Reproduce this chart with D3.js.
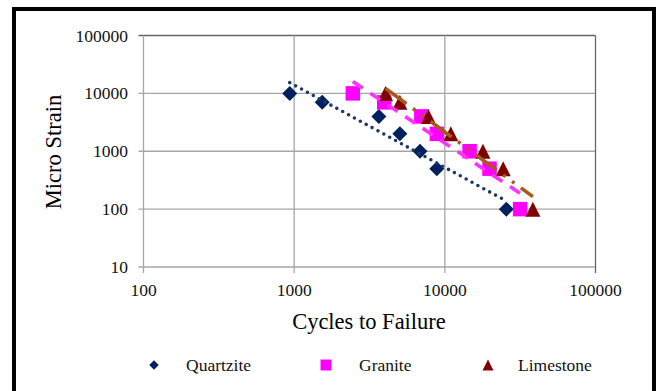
<!DOCTYPE html>
<html>
<head>
  <meta charset="utf-8">
  <script src="https://d3js.org/d3.v7.min.js"></script>
  <style>
    html, body { margin: 0; padding: 0; background: #fff; }
    svg { display: block; }
  </style>
</head>
<body>
<svg width="659" height="391"></svg>
<script>
// values
var strain = [10000, 7000, 4000, 2000, 1000, 500, 100];
var quartziteCycles = [935, 1535, 3650, 5030, 6840, 8850, 25600];
var graniteCycles = [2450, 3960, 6980, 8850, 14600, 19800, 31600];
var limestoneCycles = [4040, 5030, 7780, 10960, 17900, 24400, 38400];
var xTicks = [100, 1000, 10000, 100000];
var yTicks = [10, 100, 1000, 10000, 100000];
var seriesNames = ["Quartzite", "Granite", "Limestone"];

var svg = d3.select("svg"),
    font = "'Liberation Serif', 'Times New Roman', serif";

var x = d3.scaleLog().domain([100, 100000]).range([143.5, 595.5]);
var y = d3.scaleLog().domain([10, 100000]).range([267, 35.5]);

// outer frame
svg.append("rect")
    .attr("x", 14).attr("y", 9)
    .attr("width", 640).attr("height", 420)
    .attr("fill", "#fff")
    .attr("stroke", "#000")
    .attr("stroke-width", 4);

// gridlines
var g = svg.append("g");
g.selectAll(".hgrid")
  .data(yTicks)
  .enter().append("line")
    .attr("x1", x(100) - 5).attr("x2", x(100000))
    .attr("y1", function(d) { return y(d); })
    .attr("y2", function(d) { return y(d); })
    .attr("stroke", function(d) { return d == 100000 ? "#666" : "#a6a6a6"; })
    .attr("stroke-width", 1.3);

g.selectAll(".vgrid")
  .data(xTicks)
  .enter().append("line")
    .attr("y1", y(100000)).attr("y2", y(10) + 6)
    .attr("x1", function(d) { return x(d); })
    .attr("x2", function(d) { return x(d); })
    .attr("stroke", function(d) { return d == 100000 ? "#666" : "#a6a6a6"; })
    .attr("stroke-width", 1.3);

// tick labels
g.selectAll(".ylab")
  .data(yTicks)
  .enter().append("text")
    .attr("x", 128)
    .attr("y", function(d) { return y(d) + 6; })
    .attr("text-anchor", "end")
    .attr("font-family", font)
    .attr("font-size", 17.5)
    .attr("fill", "#111")
    .text(function(d) { return d; });

g.selectAll(".xlab")
  .data(xTicks)
  .enter().append("text")
    .attr("x", function(d) { return x(d); })
    .attr("y", 296)
    .attr("text-anchor", "middle")
    .attr("font-family", font)
    .attr("font-size", 17.5)
    .attr("fill", "#111")
    .text(function(d) { return d; });

// axis titles
svg.append("text")
    .attr("x", 369).attr("y", 329)
    .attr("text-anchor", "middle")
    .attr("font-family", font)
    .attr("font-size", 22.5)
    .text("Cycles to Failure");

svg.append("text")
    .attr("transform", "translate(61,152) rotate(-90)")
    .attr("text-anchor", "middle")
    .attr("font-family", font)
    .attr("font-size", 22.5)
    .text("Micro Strain");

// marker shapes
var diamond = { draw: function(c, s) { var r = Math.sqrt(s) / 2; c.moveTo(0, -r); c.lineTo(r, 0); c.lineTo(0, r); c.lineTo(-r, 0); c.closePath(); } };
var square = { draw: function(c, s) { var r = Math.sqrt(s) / 2; c.rect(-r, -r, 2 * r, 2 * r); } };
var triangle = { draw: function(c, s) { var r = Math.sqrt(s) / 2; c.moveTo(0, -r); c.lineTo(r, r); c.lineTo(-r, r); c.closePath(); } };

var series = [
  { name: "Quartzite", cycles: quartziteCycles, shape: diamond, size: 225, color: "#002060",
    trend: "#1f3864", dash: "0,6.7", width: 3.6, cap: "round", legendSize: 90 },
  { name: "Granite", cycles: graniteCycles, shape: square, size: 210, color: "#ff00ff",
    trend: "#ff33ff", dash: "12,9", width: 3.6, cap: "butt", legendSize: 120 },
  { name: "Limestone", cycles: limestoneCycles, shape: triangle, size: 225, color: "#7f0000",
    trend: "#a65a1c", dash: "26,8,3,8,3,8", width: 3.6, cap: "butt", legendSize: 120 }
];

var plot = svg.append("g");

series.forEach(function(s) {
  plot.append("g").selectAll("path")
    .data(s.cycles)
    .enter().append("path")
      .attr("transform", function(d, i) { return "translate(" + x(d) + "," + y(strain[i]) + ")"; })
      .attr("d", d3.symbol().type(s.shape).size(s.size))
      .attr("fill", s.color);
});

// power trendlines (least squares in log-log space)
series.forEach(function(s) {
  var lx = s.cycles.map(function(d) { return Math.log10(d); }),
      ly = strain.map(function(d) { return Math.log10(d); }),
      mx = d3.mean(lx), my = d3.mean(ly),
      sxy = d3.sum(lx, function(v, i) { return (v - mx) * (ly[i] - my); }),
      sxx = d3.sum(lx, function(v) { return (v - mx) * (v - mx); }),
      b = sxy / sxx, a = my - b * mx;
  var x0 = d3.min(s.cycles), x1 = d3.max(s.cycles);
  var pts = [x0, x1].map(function(c) { return [x(c), y(Math.pow(10, a + b * Math.log10(c)))]; });
  plot.append("path")
      .attr("d", d3.line()(pts))
      .attr("fill", "none")
      .attr("stroke", s.trend)
      .attr("stroke-width", s.width)
      .attr("stroke-linecap", s.cap)
      .attr("stroke-dasharray", s.dash);
});

// legend
var legendX = [154, 326, 488],
    legendTextX = [186, 359, 518];

var legend = svg.append("g")
  .selectAll("g")
  .data(series)
  .enter().append("g");

legend.append("path")
    .attr("transform", function(d, i) { return "translate(" + legendX[i] + ",365)"; })
    .attr("d", function(d) { return d3.symbol().type(d.shape).size(d.legendSize)(); })
    .attr("fill", function(d) { return d.color; });

legend.append("text")
    .attr("x", function(d, i) { return legendTextX[i]; })
    .attr("y", 371)
    .attr("font-family", font)
    .attr("font-size", 17.5)
    .attr("fill", "#111")
    .text(function(d) { return d.name; });
</script>
</body>
</html>
